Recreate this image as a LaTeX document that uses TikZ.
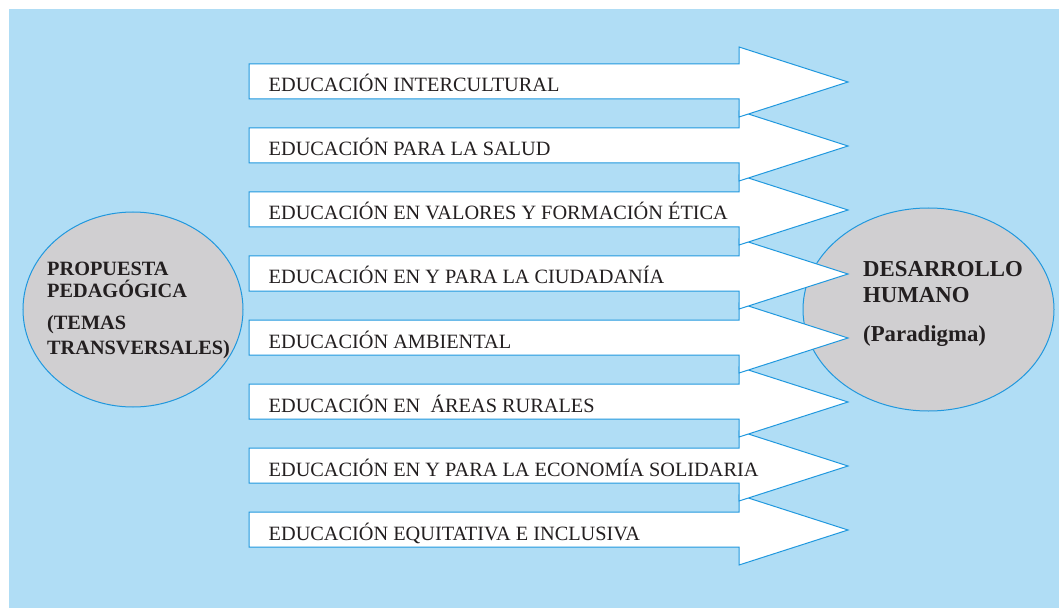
\documentclass[tikz,border=0pt]{standalone}
\usepackage{fontspec}
\setmainfont{Liberation Serif}
\usetikzlibrary{shapes.geometric}
\definecolor{bgblue}{RGB}{176,221,245}
\definecolor{lineblue}{RGB}{32,152,222}
\definecolor{ellgray}{RGB}{208,207,209}
\definecolor{ink}{RGB}{35,31,32}
\tikzset{
  arrowshape/.style={draw=lineblue, fill=white, line width=1bp, line join=miter},
  bubble/.style={ellipse, draw=lineblue, fill=ellgray, line width=1bp, inner sep=0pt},
  itemtext/.style={anchor=base west, inner sep=0pt, text=ink, font=\fontsize{20.3bp}{24bp}\selectfont},
  lefttext/.style={anchor=base west, inner sep=0pt, text=ink, font=\bfseries\fontsize{20.3bp}{24bp}\selectfont},
  righttext/.style={anchor=base west, inner sep=0pt, text=ink, font=\bfseries\fontsize{22.8bp}{26bp}\selectfont}
}
\begin{document}
\begin{tikzpicture}[x=1bp,y=-1bp]
\useasboundingbox (0,0) rectangle (1059,608);
\fill[bgblue] (9,9) rectangle (1059,608);
% ellipses
\node[bubble, minimum width=220bp, minimum height=195bp] (prop) at (133,309.5) {};
\node[bubble, minimum width=251bp, minimum height=203bp] (desa) at (928.5,309.5) {};
% arrows, drawn bottom to top so upper ones lie above
\foreach \i in {8,7,...,1}{
  \pgfmathsetmacro{\c}{82+64*(\i-1)}
  \draw[arrowshape] (249,\c-18) -- (739,\c-18) -- (739,\c-35) -- (848,\c)
     -- (739,\c+35) -- (739,\c+17) -- (249,\c+17) -- cycle;
}
% arrow labels
\foreach \i/\t in {1/{EDUCACIÓN INTERCULTURAL},
                   2/{EDUCACIÓN PARA LA SALUD},
                   3/{EDUCACIÓN EN VALORES Y FORMACIÓN ÉTICA},
                   4/{EDUCACIÓN EN Y PARA LA CIUDADANÍA},
                   5/{EDUCACIÓN AMBIENTAL},
                   6/{EDUCACIÓN EN \ ÁREAS RURALES},
                   7/{EDUCACIÓN EN Y PARA LA ECONOMÍA SOLIDARIA},
                   8/{EDUCACIÓN EQUITATIVA E INCLUSIVA}}{
  \pgfmathsetmacro{\c}{92+64*(\i-1)}
  \node[itemtext] (lab\i) at (268.5,\c) {\t};
}
% left ellipse text
\node[lefttext] (l1) at (47,276) {PROPUESTA};
\node[lefttext] (l2) at (47,298) {PEDAGÓGICA};
\node[lefttext] (l3) at (47,329) {(TEMAS};
\node[lefttext] (l4) at (47,354) {TRANSVERSALES)};
% right ellipse text
\node[righttext] (r1) at (863,277) {DESARROLLO};
\node[righttext] (r2) at (863,303) {HUMANO};
\node[righttext] (r3) at (863,341) {(Paradigma)};
\end{tikzpicture}
\end{document}
